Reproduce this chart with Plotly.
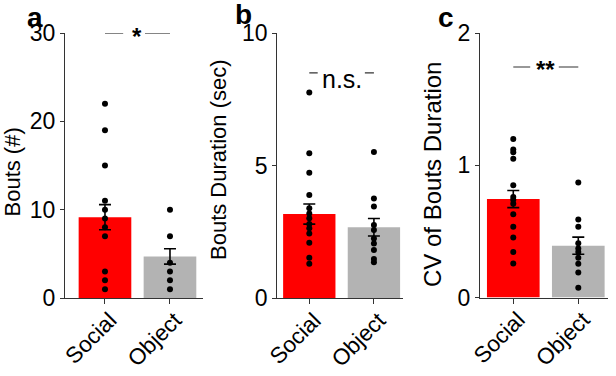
import plotly.graph_objects as go

categories = ["Social", "Object"]

# Panel a: Bouts (#)
a_social = [22, 19, 15, 11, 10, 9, 8, 7, 3, 2, 1]
a_object = [10, 7, 4, 3, 2, 1]
a_mean = [9.15, 4.7]
a_sem = [1.42, 0.87]

# Panel b: Bouts Duration (sec)
b_social = [7.77, 5.47, 4.74, 3.9, 3.4, 3.2, 3.02, 2.8, 2.64, 2.45, 2.1, 1.53, 1.3]
b_object = [5.52, 3.77, 3.46, 2.77, 2.58, 2.26, 2.07, 1.82, 1.48, 1.36]
b_mean = [3.18, 2.68]
b_sem = [0.38, 0.33]

# Panel c: CV of Bouts Duration
c_social = [1.2, 1.12, 1.1, 1.05, 0.85, 0.76, 0.74, 0.71, 0.63, 0.535, 0.455, 0.345, 0.258]
c_object = [0.87, 0.59, 0.535, 0.41, 0.37, 0.345, 0.3, 0.255, 0.19, 0.074]
c_mean = [0.745, 0.392]
c_sem = [0.065, 0.065]

y_ticks_a = [0, 10, 20, 30]
y_ticks_b = [0, 5, 10]
y_ticks_c = [0, 1, 2]

FONT = "Liberation Sans, Arial, sans-serif"
RED = "#FF0000"
GRAY = "#B3B3B3"

fig = go.Figure()

panels = [
    ("x", "y", a_social, a_object, a_mean, a_sem),
    ("x2", "y2", b_social, b_object, b_mean, b_sem),
    ("x3", "y3", c_social, c_object, c_mean, c_sem),
]
for xa, ya, soc, obj, mean, sem in panels:
    fig.add_trace(go.Bar(
        x=[0, 1], y=mean, width=0.81, marker=dict(color=[RED, GRAY], line=dict(width=0)),
        error_y=dict(type="data", array=sem, visible=True, color="black", thickness=1.6, width=6),
        xaxis=xa, yaxis=ya, showlegend=False))
    fig.add_trace(go.Scatter(
        x=[0] * len(soc) + [1] * len(obj), y=soc + obj, mode="markers",
        marker=dict(color="black", size=6), xaxis=xa, yaxis=ya, showlegend=False))

def xax(domain, rng, anchor):
    return dict(domain=domain, range=rng, tickvals=[0, 1], ticktext=categories, tickangle=-45,
                showline=True, linecolor="#333", linewidth=1.2, ticks="outside", ticklen=5,
                tickcolor="#333", showgrid=False, zeroline=False, automargin=False, anchor=anchor,
                ticklabelshift=5, ticklabelstandoff=-6,
                tickfont=dict(family=FONT, size=22.5, color="black"), fixedrange=True)

def yax(domain, rng, tv, anchor):
    return dict(domain=domain, range=rng, tickvals=tv, showline=True, linecolor="#333",
                linewidth=1.2, ticks="outside", ticklen=4, tickcolor="#333", showgrid=False,
                zeroline=False, anchor=anchor, automargin=False,
                tickfont=dict(family=FONT, size=23, color="black"), fixedrange=True)

H = 376.0
W = 616.0
fig.update_layout(
    width=616, height=376, autosize=False,
    margin=dict(l=0, r=0, t=0, b=0, autoexpand=False),
    paper_bgcolor="white", plot_bgcolor="white",
    barmode="overlay",
    xaxis=xax([65 / W, 203 / W], [-0.615, 1.508], "y"),
    yaxis=yax([1 - 298 / H, 1 - 33 / H], [0, 30], y_ticks_a, "x"),
    xaxis2=xax([277.3 / W, 403 / W], [-0.495, 1.45], "y2"),
    yaxis2=yax([1 - 298.3 / H, 1 - 33.3 / H], [0, 10], y_ticks_b, "x2"),
    xaxis3=xax([480 / W, 608 / W], [-0.512, 1.457], "y3"),
    yaxis3=yax([1 - 297.5 / H, 1 - 33.3 / H], [0, 2], y_ticks_c, "x3"),
)

# significance lines
sig_lines = [
    ("x", "y", 0, 0.28, 30), ("x", "y", 0.615, 1.0, 30),
    ("x2", "y2", 0, 0.13, 8.51), ("x2", "y2", 0.86, 1.0, 8.51),
    ("x3", "y3", 0, 0.26, 1.745), ("x3", "y3", 0.70, 1.0, 1.745),
]
for xr, yr, x0, x1, yv in sig_lines:
    fig.add_shape(type="line", xref=xr, yref=yr, x0=x0, x1=x1, y0=yv, y1=yv,
                  line=dict(color="#333", width=1.2))

ann = []
ann.append(dict(xref="x", yref="y", x=0.49, y=30, text="<b>*</b>", showarrow=False,
                yanchor="middle", yshift=-4, font=dict(family=FONT, size=24, color="black")))
ann.append(dict(xref="x2", yref="y2", x=0.5, y=8.27, text="n.s.", showarrow=False,
                yanchor="middle", font=dict(family=FONT, size=25, color="black")))
ann.append(dict(xref="x3", yref="y3", x=0.49, y=1.745, text="<b>**</b>", showarrow=False,
                yanchor="middle", yshift=-3, font=dict(family=FONT, size=24, color="black")))

# y titles
ann.append(dict(xref="paper", yref="paper", x=12.5 / W, y=1 - 172 / H, text="Bouts (#)",
                textangle=-90, showarrow=False, xanchor="center", yanchor="middle",
                font=dict(family=FONT, size=22, color="black")))
ann.append(dict(xref="paper", yref="paper", x=219 / W, y=1 - 160 / H, text="Bouts Duration (sec)",
                textangle=-90, showarrow=False, xanchor="center", yanchor="middle",
                font=dict(family=FONT, size=22, color="black")))
ann.append(dict(xref="paper", yref="paper", x=432 / W, y=1 - 175 / H, text="CV of Bouts Duration",
                textangle=-90, showarrow=False, xanchor="center", yanchor="middle",
                font=dict(family=FONT, size=24, color="black")))

# panel letters
for letter, px, py in [("a", 35, 18), ("b", 243, 15), ("c", 446, 18)]:
    ann.append(dict(xref="paper", yref="paper", x=px / W, y=1 - py / H, text="<b>%s</b>" % letter,
                    showarrow=False, xanchor="center", yanchor="middle",
                    font=dict(family=FONT, size=28, color="black")))

fig.update_layout(annotations=ann)
fig.write_html("out.html", config={"displayModeBar": False},
               post_script="document.body.style.margin='0px';document.body.style.overflow='hidden';")
